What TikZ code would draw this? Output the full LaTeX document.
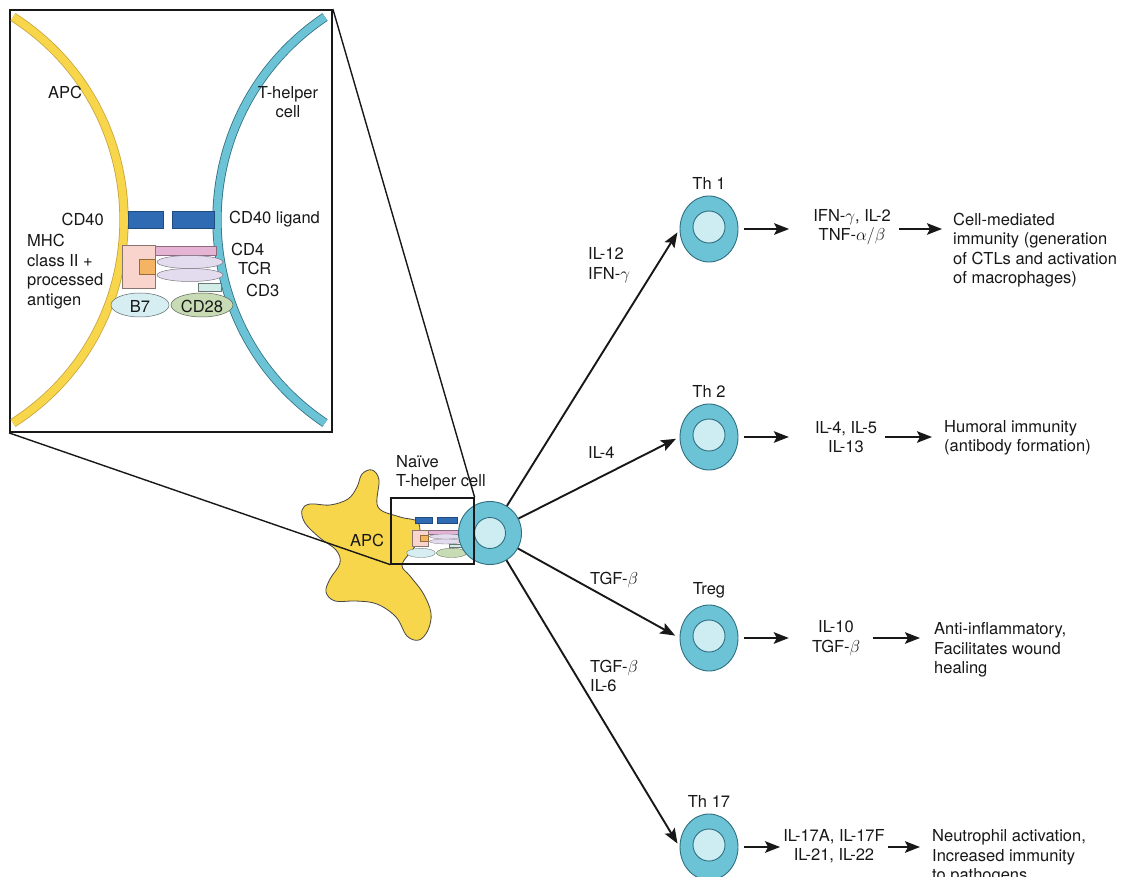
\documentclass[tikz,border=0pt]{standalone}
\usepackage{fontspec}
\setmainfont{TeX Gyre Heros}
\usepackage{tikz}
\usetikzlibrary{arrows.meta, positioning, shapes.geometric}

\definecolor{ApcYellow}{HTML}{F8D64C}
\definecolor{ApcEdge}{HTML}{C8A43A}
\definecolor{CellBlue}{HTML}{6CC3D6}
\definecolor{CellEdge}{HTML}{2F6F80}
\definecolor{NucleusBlue}{HTML}{CDEDF3}
\definecolor{CdBlue}{HTML}{2F6BB2}
\definecolor{MhcPink}{HTML}{F8D4CD}
\definecolor{PeptideOrange}{HTML}{F4B463}
\definecolor{CdFourPink}{HTML}{E5B3D4}
\definecolor{TcrLilac}{HTML}{E3DCEF}
\definecolor{CdThreeTeal}{HTML}{D2EDE7}
\definecolor{BSevenCyan}{HTML}{D6EEF1}
\definecolor{CdGreen}{HTML}{C7DBB4}
\definecolor{InkGray}{HTML}{181818}

% receptor cluster between the two membranes (inset coordinates)
\newcommand{\synapse}[1]{%
  \filldraw[line width=#1, draw=CdBlue!70!black, fill=CdBlue] (128,211) rectangle (163,228);
  \filldraw[line width=#1, draw=CdBlue!70!black, fill=CdBlue] (172,211) rectangle (214,228);
  \filldraw[line width=#1, draw=CdFourPink!60!black, fill=CdFourPink] (155,246) rectangle (216,255);
  \filldraw[line width=#1, draw=TcrLilac!55!black, fill=TcrLilac] (190,275) ellipse [x radius=33, y radius=6.5];
  \filldraw[line width=#1, draw=TcrLilac!55!black, fill=TcrLilac] (190,262) ellipse [x radius=33, y radius=6.5];
  \filldraw[line width=#1, draw=CdThreeTeal!50!black, fill=CdThreeTeal] (198,283) rectangle (221,291);
  \filldraw[line width=#1, draw=MhcPink!55!black, fill=MhcPink] (122,245) rectangle (155,288);
  \filldraw[line width=#1, draw=PeptideOrange!60!black, fill=PeptideOrange] (139,259) rectangle (155,274);
  \filldraw[line width=#1, draw=BSevenCyan!45!black, fill=BSevenCyan] (140,305) ellipse [x radius=29, y radius=12];
  \filldraw[line width=#1, draw=CdGreen!45!black, fill=CdGreen] (202,305) ellipse [x radius=31, y radius=12];
}

\begin{document}
\begin{tikzpicture}[
    x=1pt, y=-1pt,
    every node/.style={font=\fontsize{16.5}{19.5}\selectfont, text=InkGray, inner sep=0pt},
    cell/.style={ellipse, draw=CellEdge, fill=CellBlue, line width=0.9pt,
      minimum width=58pt, minimum height=66pt,
      path picture={\draw[CellEdge, fill=NucleusBlue, line width=0.9pt]
        ([yshift=2pt]path picture bounding box.center) circle (16pt);}},
    naive/.style={circle, draw=CellEdge, fill=CellBlue, line width=0.9pt,
      minimum size=63pt,
      path picture={\draw[CellEdge, fill=NucleusBlue, line width=0.9pt]
        (path picture bounding box.center) circle (15.5pt);}},
    band/.style 2 args={line width=7.6pt, draw=#1, preaction={draw=#2, line width=9.2pt}},
    fate/.style={-{Stealth[length=15pt, width=11.5pt, inset=3pt]}, line width=1.9pt, InkGray},
    product/.style={-{Stealth[length=15pt, width=11.5pt, inset=3pt]}, line width=2.1pt, InkGray},
    zoomline/.style={line width=1.4pt, InkGray}
  ]
  \useasboundingbox (0,0) rectangle (1130,877);
  \clip (0,0) rectangle (1130,877);
  \fill[white] (0,0) rectangle (1130,877);

  % close-up of the synapse
  \node[draw=InkGray, fill=white, line width=1.8pt, minimum width=322pt, minimum height=422pt] (inset) at (171,221) {};
  \draw[band={ApcYellow}{ApcEdge}] (13,17) .. controls (161,112) and (161,328) .. (13,423);
  \draw[band={CellBlue}{CellEdge}] (325,17) .. controls (181,114) and (181,326) .. (325,423);
  \synapse{0.5pt}
  \node (apclbl) at (65,92) {APC};
  \node[align=center] (thlbl) at (288,102) {T-helper\\cell};
  \node[anchor=east] (cd40) at (104,219) {CD40};
  \node[anchor=west] (cd40l) at (229,219) {CD40 ligand};
  \node[anchor=north west, align=left] (mhc) at (27,234) {MHC\\class II +\\processed\\antigen};
  \node[anchor=west] (cd4) at (231,249) {CD4};
  \node[anchor=west] (tcr) at (238,268) {TCR};
  \node[anchor=west] (cd3) at (246,290) {CD3};
  \node (b7) at (140,306) {B7};
  \node (cd28) at (202,306) {CD28};

  % APC meeting the naive T cell
  \draw[fill=ApcYellow, draw=InkGray!80, line width=0.8pt] plot[smooth cycle, tension=0.6] coordinates {
    (372,470) (379,480) (378,507) (400,517) (418,522) (419,540) (413,549) (402,565)
    (410,576) (423,593) (431,613) (428,630) (419,640) (407,636) (396,617) (377,604)
    (356,601) (335,601) (326,592) (330,579) (340,563) (336,550) (320,538) (305,523)
    (302,510) (310,504) (330,505) (348,499) (357,487) (362,474)};
  \node (apc) at (367,540) {APC};
  \begin{scope}[shift={(351.8,436.4)}, xscale=0.494, yscale=0.382]
    \synapse{0.3pt}
  \end{scope}
  \node[naive] (naive) at (490,533) {};
  \node[draw=InkGray, line width=1.3pt, minimum width=83pt, minimum height=66pt] (zoombox) at (432.5,531) {};
  \node[anchor=north west, align=left] (naivelbl) at (396,455) {Naïve\\T-helper cell};

  % effector subsets
  \node[cell] (th1) at (709,229) {};
  \node[cell] (th2) at (709,437) {};
  \node[cell] (treg) at (709,638) {};
  \node[cell] (th17) at (709,847) {};
  \node[above=6pt of th1] (th1lbl) {Th 1};
  \node[above=6pt of th2] (th2lbl) {Th 2};
  \node[above=6pt of treg] (treglbl) {Treg};
  \node[above=6pt of th17] (th17lbl) {Th 17};

  \draw[fate, shorten >=4pt] (naive) -- (th1.west);
  \draw[fate, shorten >=4pt] (naive) -- (th2.west);
  \draw[fate, shorten >=5pt] (naive) -- (treg.west);
  \draw[fate, shorten >=4pt] (naive) -- (th17.west);
  \node[anchor=west, align=left] (il12) at (588,265) {IL-12\\IFN-$\gamma$};
  \node[anchor=west] (il4) at (588,452) {IL-4};
  \node[anchor=west] (tgfb) at (590,580) {TGF-$\beta$};
  \node[anchor=west, align=left] (tgfil6) at (590,676) {TGF-$\beta$\\IL-6};

  % cytokines and outcomes
  \node[align=center] (cyto1) at (852,227) {IFN-$\gamma$, IL-2\\TNF-$\alpha/\beta$};
  \node[align=center] (cyto2) at (846,437) {IL-4, IL-5\\IL-13};
  \node[align=center] (cyto3) at (836,638) {IL-10\\TGF-$\beta$};
  \node[align=center] (cyto4) at (834,846) {IL-17A, IL-17F\\IL-21, IL-22};

  \node[anchor=west, align=left] (out1) at (953,250) {Cell-mediated\\immunity (generation\\of CTLs and activation\\of macrophages)};
  \node[anchor=west, align=left] (out2) at (944,438) {Humoral immunity\\(antibody formation)};
  \node[anchor=west, align=left] (out3) at (934,650) {Anti-inflammatory,\\Facilitates wound\\healing};
  \node[anchor=west, align=left] (out4) at (932,857) {Neutrophil activation,\\Increased immunity\\to pathogens};

  \draw[product, shorten <=6pt, shorten >=24pt] (th1.east) -- (cyto1.west |- th1.east);
  \draw[product, shorten <=8pt, shorten >=11pt] (cyto1.east |- th1.east) -- (out1.west |- th1.east);
  \draw[product, shorten <=6pt, shorten >=26pt] (th2.east) -- (cyto2.west |- th2.east);
  \draw[product, shorten <=8pt, shorten >=12pt] (cyto2.east |- th2.east) -- (out2.west |- th2.east);
  \draw[product, shorten <=6pt, shorten >=23pt] (treg.east) -- (cyto3.west |- treg.east);
  \draw[product, shorten <=13pt, shorten >=14pt] (cyto3.east |- treg.east) -- (out3.west |- treg.east);
  \draw[product, shorten <=6pt, shorten >=3pt] (th17.east) -- (cyto4.west |- th17.east);
  \draw[product, shorten <=3pt, shorten >=12pt] (cyto4.east |- th17.east) -- (out4.west |- th17.east);

  % lines tying the close-up to the contact zone
  \draw[zoomline] (inset.north east) -- (zoombox.north east);
  \draw[zoomline] (inset.south west) -- (zoombox.south west);
\end{tikzpicture}
\end{document}
